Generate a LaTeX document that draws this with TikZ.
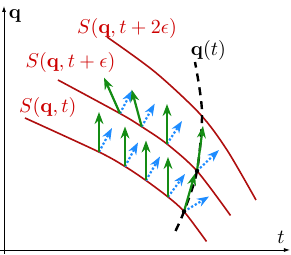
\documentclass[tikz,border=0pt]{standalone}
\usetikzlibrary{arrows.meta}
\definecolor{cniveau}{RGB}{175,15,15}
\definecolor{cetiq}{RGB}{205,0,0}
\definecolor{cvert}{RGB}{20,140,20}
\definecolor{cbleu}{RGB}{30,140,255}

\tikzset{
  niveau/.style={cniveau, line width=0.8pt},
  vitesse/.style={cvert, line width=1.1pt, -{Stealth[length=6pt, width=4.4pt]}},
  gradient/.style={cbleu, line width=1.1pt, densely dotted, -{Stealth[length=6pt, width=4.4pt]}},
  etiquette/.style={cetiq, inner sep=0pt},
}

\begin{document}
\begin{tikzpicture}[x=0.5pt, y=-0.5pt]
  \useasboundingbox (0,0) rectangle (291,255);

  % --- axes -------------------------------------------------------------
  \draw[-{Latex[length=3pt, width=2pt]}] (4,254) -- (4,6);
  \draw[-{Latex[length=3pt, width=2pt]}] (0,250) -- (290,250);
  \node[inner sep=0pt] (lq) at (15,16) {$\mathbf{q}$};
  \node[inner sep=0pt] (lt) at (281,237.5) {$t$};

  % --- points de base sur les surfaces de niveau -------------------------
  \coordinate (a1) at (99,152);
  \coordinate (a2) at (125,166.5);
  \coordinate (a3) at (146,180.5);
  \coordinate (a4) at (168,197);
  \coordinate (x1) at (184,211.5);
  \coordinate (b1) at (120,113.5);
  \coordinate (b2) at (141.7,126.7);
  \coordinate (b3) at (167,144);
  \coordinate (x2) at (197,171);

  % --- surfaces de niveau -----------------------------------------------
  \draw[niveau] plot[smooth] coordinates
    {(25,118) (a1) (a2) (a3) (a4) (x1) (206.5,241.5)};
  \draw[niveau] plot[smooth] coordinates
    {(58,80) (b1) (b2) (b3) (x2) (230.5,215.5)};
  \draw[niveau] plot[smooth] coordinates
    {(107,37) (155,72) (200,114) (227,150) (256,200)};

  \node[etiquette] (s0) at (47.8,108) {$S(\mathbf{q},t)$};
  \node[etiquette] (s1) at (70.5,63) {$S(\mathbf{q},t+\epsilon)$};
  \node[etiquette] (s2) at (127,29) {$S(\mathbf{q},t+2\epsilon)$};

  % --- trajectoire q(t) --------------------------------------------------
  \draw[black, line width=1.2pt, dash pattern=on 4pt off 3pt] plot[smooth]
    coordinates {(175.5,231) (x1) (x2) (202,112) (195,62)};
  \node[inner sep=0pt] (lqt) at (208.4,51) {$\mathbf{q}(t)$};

  % --- gradients (pointilles) -------------------------------------------
  \draw[gradient] (a1) -- ++(13,-24);
  \draw[gradient] (a2) -- ++(13,-24);
  \draw[gradient] (a3) -- ++(14,-24);
  \draw[gradient] (a4) -- ++(17,-23);
  \draw[gradient] (x1) -- ++(25,-15);
  \draw[gradient] (b1) -- ++(12,-23);
  \draw[gradient] (b2) -- ++(13,-23);
  \draw[gradient] (b3) -- ++(15,-23);
  \draw[gradient] (x2) -- ++(22,-21);

  % --- vitesses ----------------------------------------------------------
  \foreach \p in {a1, a2, a3, a4, b3}
    \draw[vitesse] (\p) -- ++(0,-40);
  \draw[vitesse] (b1) -- ++(-16,-36);
  \draw[vitesse] (b2) -- ++(-10,-37);
  \draw[vitesse] (x1) -- ++(11,-38);
  \draw[vitesse] (x2) -- ++(6,-45);

  \fill (x1) circle (1.1pt);
  \fill (x2) circle (1.1pt);
\end{tikzpicture}
\end{document}
